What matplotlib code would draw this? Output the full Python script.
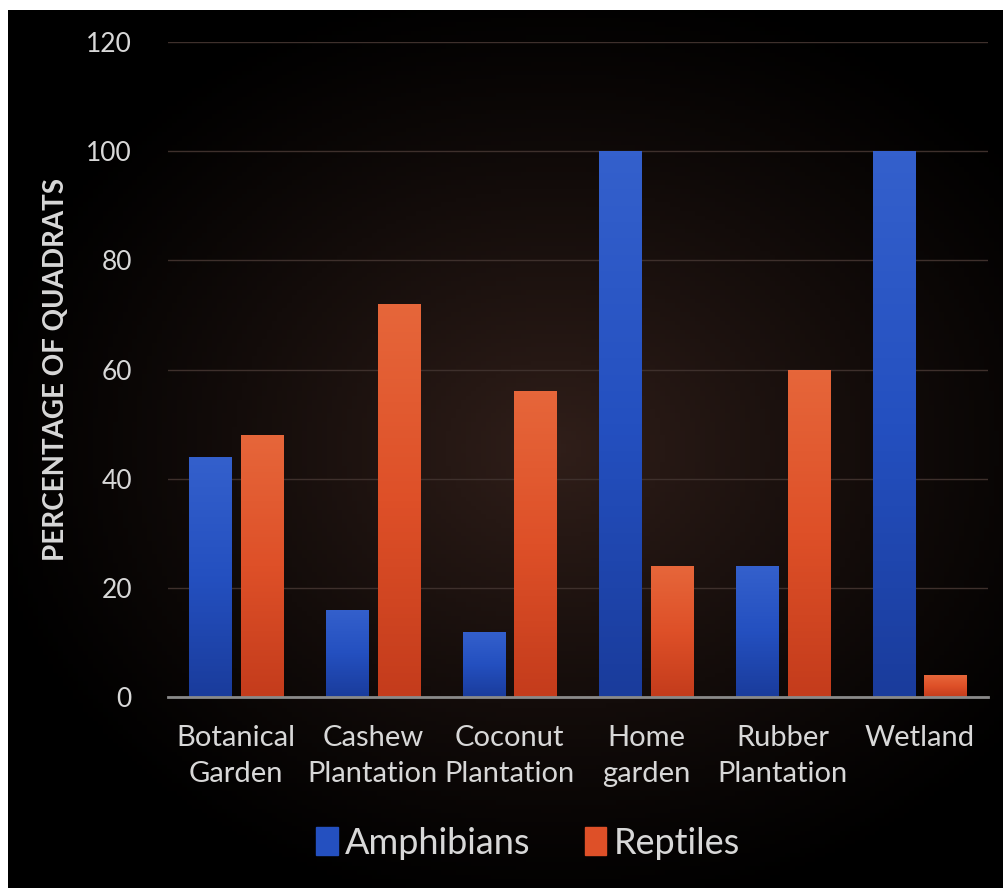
import numpy as np
import matplotlib
matplotlib.use("Agg")
import matplotlib.pyplot as plt
from matplotlib.colors import LinearSegmentedColormap
from matplotlib.patches import Patch

categories = ["Botanical\nGarden", "Cashew\nPlantation", "Coconut\nPlantation",
              "Home\ngarden", "Rubber\nPlantation", "Wetland"]
amphibians = [44, 16, 12, 100, 24, 100]
reptiles = [48, 72, 56, 24, 60, 4]

plt.rcParams['font.family'] = ['Lato', 'DejaVu Sans']
W, H = 1004, 888
fig = plt.figure(figsize=(W / 100, H / 100), dpi=100, facecolor="white")

# dark panel with a faint warm glow in the middle
bg = fig.add_axes([8 / W, 0, 1 - 8 / W, 1 - 10 / H])
bg.set_axis_off()
yy, xx = np.mgrid[0:1:200j, 0:1:200j]
r = np.sqrt(((xx - 0.55) / 0.6) ** 2 + ((yy - 0.5) / 0.55) ** 2)
glow = np.clip(1 - r, 0, 1) ** 1.2
img = np.zeros((200, 200, 3))
img[..., 0] = 0.19 * glow
img[..., 1] = 0.12 * glow
img[..., 2] = 0.10 * glow
bg.imshow(img, extent=[0, 1, 0, 1], aspect="auto", origin="lower")

ax = fig.add_axes([168 / W, 1 - 697 / H, 820 / W, (697 - 42) / H])
ax.patch.set_alpha(0)
x = np.arange(len(categories))
w = 0.31
off = 0.19

blue_cm = LinearSegmentedColormap.from_list("b", ["#1a3c9c", "#2450c0", "#3460cc"])
red_cm = LinearSegmentedColormap.from_list("r", ["#c43c1c", "#de5028", "#e6663a"])
grad = np.linspace(0, 1, 100).reshape(-1, 1)

def grad_bars(xs, vals, cmap):
    bars = ax.bar(xs, vals, w, color="none", edgecolor="none", zorder=3)
    for b in bars:
        x0, y0 = b.get_x(), b.get_y()
        im = ax.imshow(grad, cmap=cmap, origin="lower", aspect="auto",
                       extent=[x0, x0 + b.get_width(), y0, y0 + b.get_height()],
                       zorder=3)
        im.set_clip_path(b)
    return bars

grad_bars(x - off, amphibians, blue_cm)
grad_bars(x + off, reptiles, red_cm)

ax.set_xlim(-0.5, len(categories) - 0.5)
ax.set_ylim(0, 120)
ax.set_yticks(range(0, 121, 20))
ax.set_xticks(x)
ax.set_xticklabels(categories, fontsize=21, color="#d8d8d8", linespacing=1.5)
ax.tick_params(axis="y", labelsize=19, colors="#d8d8d8", length=0, pad=26)
ax.tick_params(axis="x", length=0, pad=20)
ax.grid(axis="y", color="#3e302c", linewidth=1, zorder=0)
for s in ["top", "right", "left"]:
    ax.spines[s].set_visible(False)
ax.spines["bottom"].set_color("#8a8a8a")
ax.spines["bottom"].set_linewidth(2)
ax.spines["bottom"].set_zorder(4)
ax.set_ylabel("PERCENTAGE OF QUADRATS", fontsize=20, fontweight="bold",
              color="#d8d8d8", labelpad=12)

handles = [Patch(color="#2450c0", label="Amphibians"),
           Patch(color="#de5028", label="Reptiles")]
fig.legend(handles=handles, loc="center", bbox_to_anchor=(528 / W, 1 - 843 / H),
           ncol=2, frameon=False, fontsize=26, labelcolor="#d8d8d8",
           handlelength=0.6, handleheight=0.8, handletextpad=0.2, columnspacing=1.5)

fig.savefig("out.png", dpi=100, facecolor="white")
